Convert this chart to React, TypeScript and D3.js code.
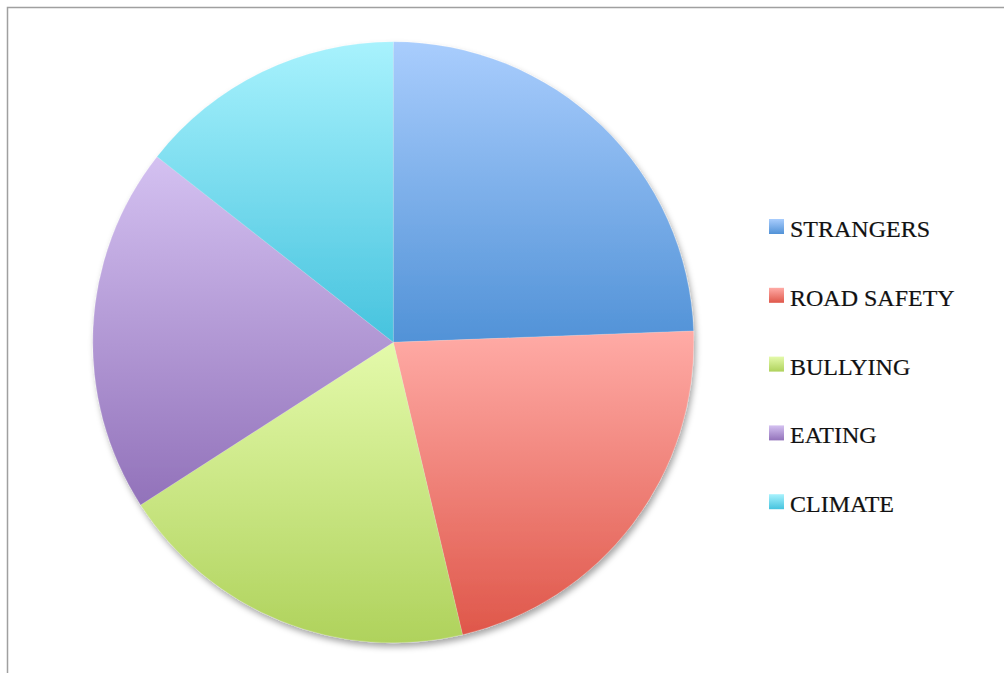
import React from "react";
import * as d3 from "d3";

const categories = ["STRANGERS", "ROAD SAFETY", "BULLYING", "EATING", "CLIMATE"];
const values = [24.4, 21.9, 19.6, 19.7, 14.4];
const topColors = ["#a9cdfd", "#ffaba6", "#e4faab", "#d4c1f1", "#a8f2fd"];
const bottomColors = ["#5192d7", "#df574a", "#afd25c", "#9272ba", "#46c3de"];

const W = 1004;
const H = 673;
const cx = 393.3;
const cy = 342.3;
const R = 300.5;

export default function App() {
  const pie = d3.pie<number>().sort(null).value((d) => d);
  const arcs = pie(values);
  const arc = d3.arc<d3.PieArcDatum<number>>().innerRadius(0).outerRadius(R);

  const legendX = 769;
  const legendY0 = 219;
  const legendStep = 68.8;

  return (
    <svg
      width={W}
      height={H}
      style={{ position: "absolute", left: 0, top: 0, background: "#fff" }}
    >
      <defs>
        {categories.map((c, i) => (
          <linearGradient key={c} id={`g${i}`} x1="0" y1="0" x2="0" y2="1">
            <stop offset="0" stopColor={topColors[i]} />
            <stop offset="1" stopColor={bottomColors[i]} />
          </linearGradient>
        ))}
        <filter id="shadow" x="-10%" y="-10%" width="120%" height="120%">
          <feDropShadow dx="2" dy="4" stdDeviation="3" floodColor="#000" floodOpacity="0.35" />
        </filter>
      </defs>
      <rect x={7.5} y={7.5} width={W + 10} height={H + 10} fill="#fff" stroke="#a0a0a0" strokeWidth={1.5} />
      <g transform={`translate(${cx},${cy})`} filter="url(#shadow)">
        {arcs.map((a, i) => (
          <path key={i} d={arc(a) || ""} fill={`url(#g${i})`} stroke="rgba(255,255,255,0.25)" strokeWidth={0.6} />
        ))}
      </g>
      {categories.map((c, i) => {
        const y = legendY0 + i * legendStep;
        return (
          <g key={c}>
            <rect x={legendX} y={y} width={15} height={15} fill={`url(#g${i})`} />
            <text
              x={790}
              y={y + 18}
              fontFamily="'Liberation Serif', 'DejaVu Serif', serif"
              fontSize={24}
              fill="#111"
              stroke="#111"
              strokeWidth={0.2}
            >
              {c}
            </text>
          </g>
        );
      })}
    </svg>
  );
}
